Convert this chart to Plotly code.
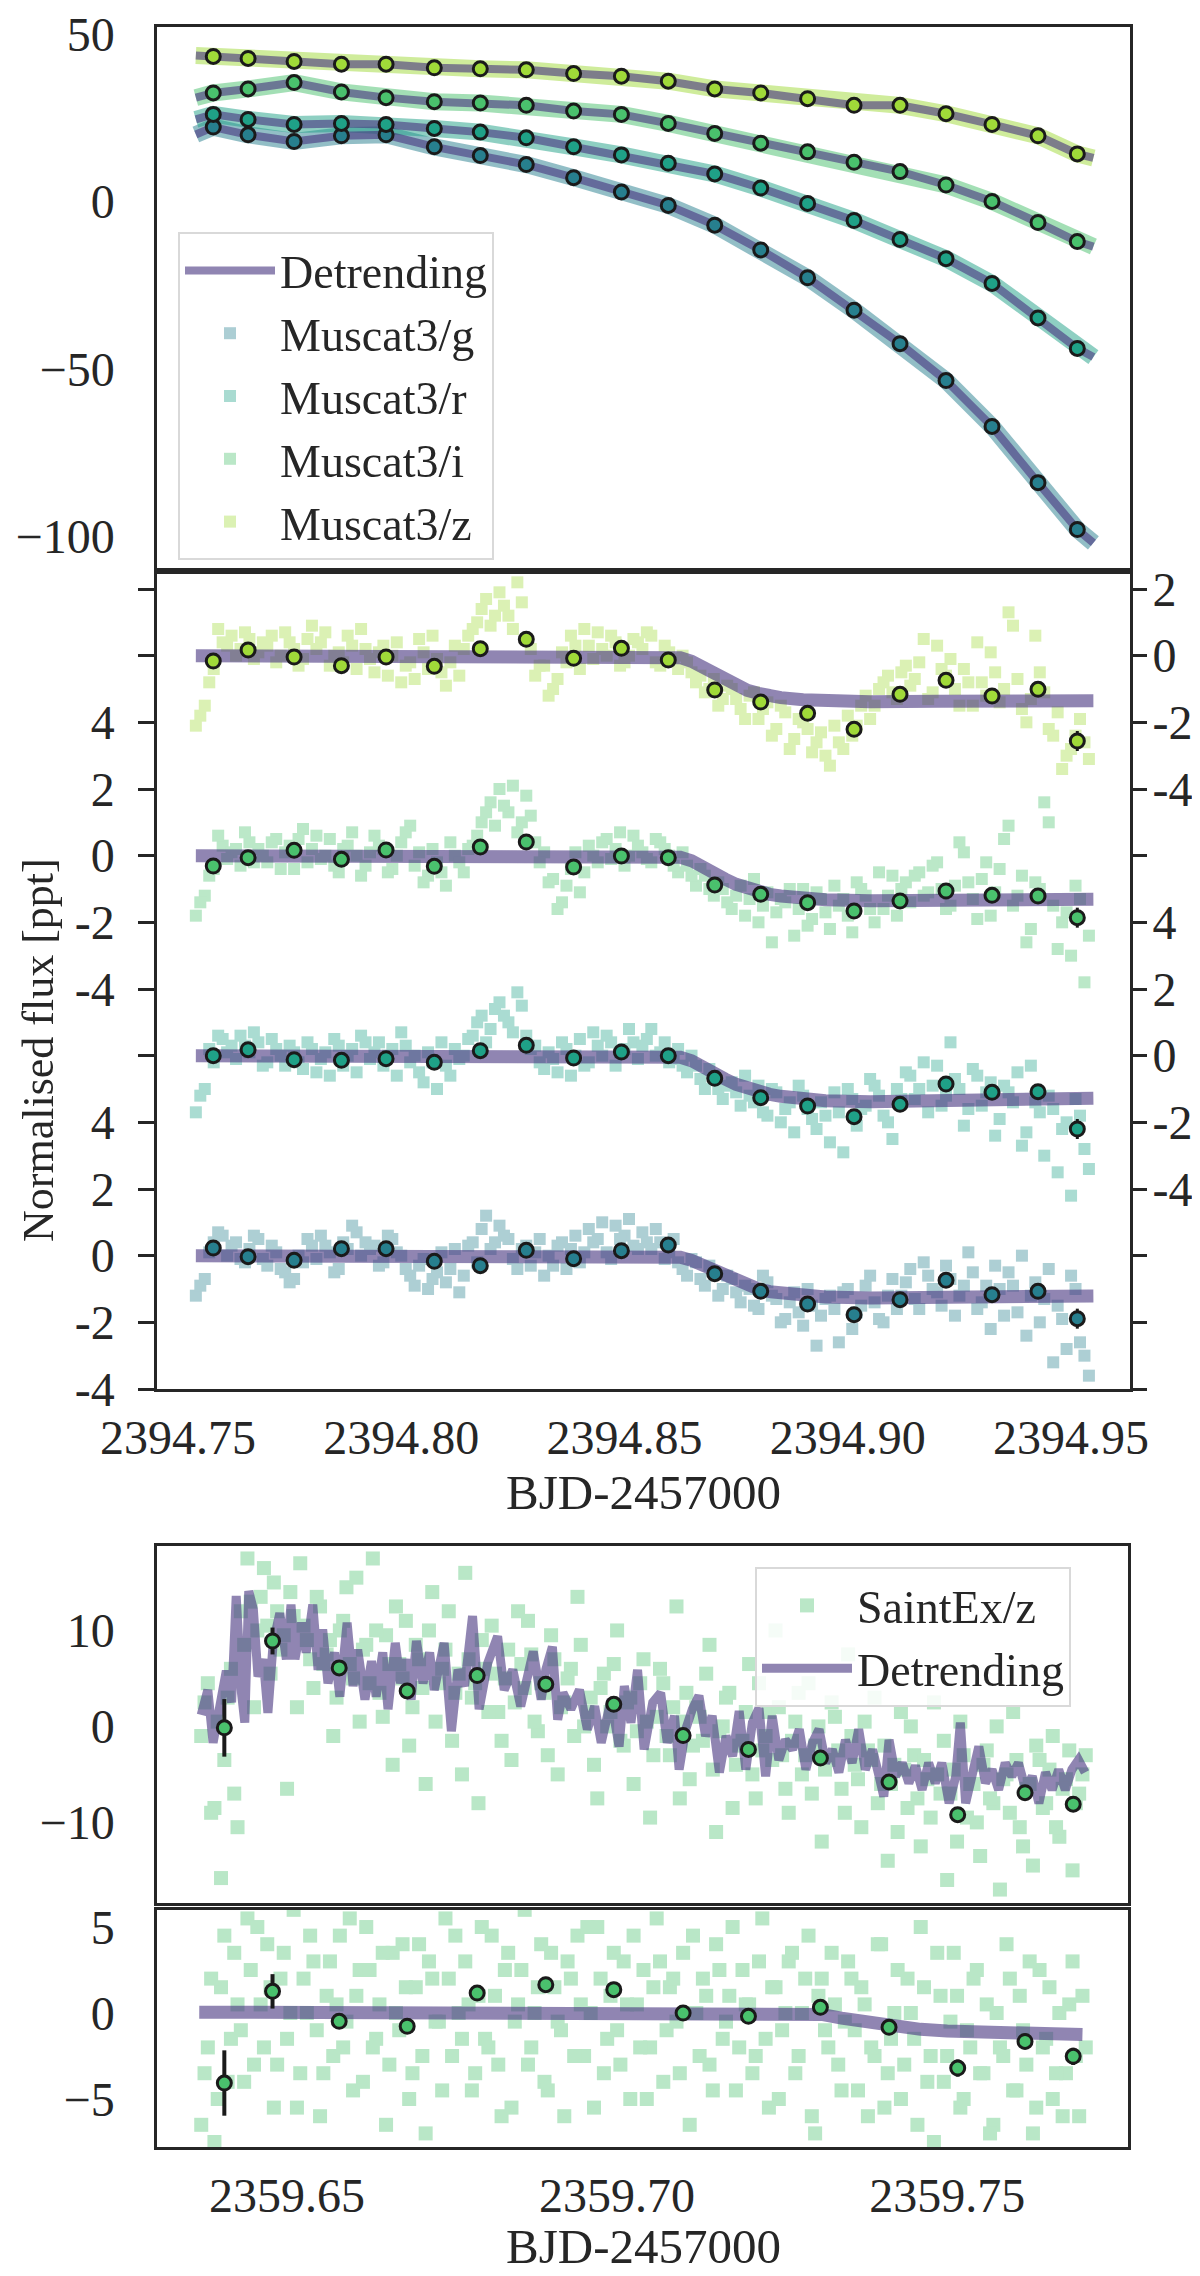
import plotly.graph_objects as go

# %%
# MuSCAT3 light curves (top two panels)
m3_time = [
    2394.754, 2394.756, 2394.758, 2394.760, 2394.762, 2394.764, 2394.766, 2394.768, 2394.770, 2394.772,
    2394.774, 2394.776, 2394.778, 2394.780, 2394.782, 2394.784, 2394.786, 2394.788, 2394.790, 2394.792,
    2394.794, 2394.796, 2394.798, 2394.800, 2394.802, 2394.804, 2394.806, 2394.808, 2394.810, 2394.812,
    2394.814, 2394.816, 2394.818, 2394.820, 2394.822, 2394.824, 2394.826, 2394.828, 2394.830, 2394.832,
    2394.834, 2394.836, 2394.838, 2394.840, 2394.842, 2394.844, 2394.846, 2394.848, 2394.850, 2394.852,
    2394.854, 2394.856, 2394.858, 2394.860, 2394.862, 2394.864, 2394.866, 2394.868, 2394.870, 2394.872,
    2394.874, 2394.876, 2394.878, 2394.880, 2394.882, 2394.884, 2394.886, 2394.888, 2394.890, 2394.892,
    2394.894, 2394.896, 2394.898, 2394.900, 2394.902, 2394.904, 2394.906, 2394.908, 2394.910, 2394.912,
    2394.914, 2394.916, 2394.918, 2394.920, 2394.922, 2394.924, 2394.926, 2394.928, 2394.930, 2394.932,
    2394.934, 2394.936, 2394.938, 2394.940, 2394.942, 2394.944, 2394.946, 2394.948, 2394.950, 2394.952,
    2394.954,
    2394.755, 2394.757, 2394.759, 2394.761, 2394.763, 2394.765, 2394.767, 2394.769, 2394.771, 2394.773,
    2394.775, 2394.777, 2394.779, 2394.781, 2394.783, 2394.785, 2394.787, 2394.789, 2394.791, 2394.793,
    2394.795, 2394.797, 2394.799, 2394.801, 2394.803, 2394.805, 2394.807, 2394.809, 2394.811, 2394.813,
    2394.815, 2394.817, 2394.819, 2394.821, 2394.823, 2394.825, 2394.827, 2394.829, 2394.831, 2394.833,
    2394.835, 2394.837, 2394.839, 2394.841, 2394.843, 2394.845, 2394.847, 2394.849, 2394.851, 2394.853,
    2394.855, 2394.857, 2394.859, 2394.861, 2394.863, 2394.865, 2394.867, 2394.869, 2394.871, 2394.873,
    2394.875, 2394.877, 2394.879, 2394.881, 2394.883, 2394.885, 2394.887, 2394.889, 2394.891, 2394.893,
    2394.895, 2394.897, 2394.899, 2394.901, 2394.903, 2394.905, 2394.907, 2394.909, 2394.911, 2394.913,
    2394.915, 2394.917, 2394.919, 2394.921, 2394.923, 2394.925, 2394.927, 2394.929, 2394.931, 2394.933,
    2394.935, 2394.937, 2394.939, 2394.941, 2394.943, 2394.945, 2394.947, 2394.949, 2394.951, 2394.953,
]

# detrended flux [ppt]
m3_g = [
    -1.2, -0.7, 0.4, 0.6, 0.3, -0.1, 0.2, 0.5, -0.3, 0.1,
    -0.5, -0.7, -0.2, 0.3, 0.6, 0.1, -0.4, 0.2, 0.7, 0.4,
    0.3, -0.2, 0.5, 0.0, -0.6, -0.3, -1.0, -0.5, -0.8, 0.2,
    -0.6, 0.4, 0.8, 0.2, 0.9, 0.5, -0.4, 0.3, 0.1, -0.6,
    -0.3, 0.4, 0.2, -0.2, 0.8, 0.5, 0.1, 0.9, 0.6, 0.3,
    0.7, 0.2, 0.4, 0.1, -0.2, -0.6, -0.2, -0.9, -0.5, -1.0,
    -0.7, -1.4, -1.0, -1.6, -0.8, -1.3, -1.9, -1.1, -2.1, -1.5,
    -1.8, -1.2, -2.6, -1.0, -1.7, -0.9, -1.4, -2.0, -0.7, -1.2,
    -0.4, -1.6, -0.6, -1.1, -0.3, -1.8, -0.9, -0.5, -1.4, -2.2,
    -1.0, -0.5, -1.7, -2.4, -0.8, -1.3, -3.2, -1.9, -0.6, -2.6,
    -3.6,
    -0.9, 0.1, 0.7, 0.0, 0.4, -0.2, 0.6, -0.1, 0.3, -0.4,
    -0.8, 0.0, 0.5, -0.1, 0.3, -0.5, 0.4, 0.9, 0.0, 0.2,
    -0.3, 0.6, 0.1, -0.4, -0.9, -0.1, -0.7, 0.1, -0.4, -1.1,
    0.3, -0.2, 1.2, 0.4, 0.6, -0.1, 0.2, -0.3, 0.5, 0.0,
    0.3, -0.4, 0.6, 0.1, 0.4, 1.0, -0.1, 0.5, 1.1, 0.2,
    0.4, 0.8, -0.1, 0.5, -0.4, -0.1, -0.7, -0.3, -1.2, -0.6,
    -1.1, -0.9, -1.5, -0.6, -1.2, -2.0, -1.4, -1.7, -1.0, -2.7,
    -1.3, -1.6, -1.1, -2.2, -1.5, -0.6, -1.9, -1.2, -1.6, -0.8,
    -1.3, -0.2, -1.0, -1.5, -0.7, -1.2, 0.1, -1.6, -0.9, -0.3,
    -1.8, -0.9, 0.0, -1.2, -2.0, -0.4, -1.5, -2.8, -1.0, -3.0,
]
m3_r = [
    -1.7, -1.0, -0.2, 0.5, 0.3, 0.6, 0.1, 0.4, -0.2, 0.2,
    -0.3, 0.1, -0.4, 0.2, -0.1, -0.6, 0.3, 0.0, -0.5, 0.4,
    0.1, -0.3, 0.2, 0.7, -0.2, -0.5, 0.1, -1.0, -0.3, 0.2,
    0.0, 0.6, 1.2, 0.8, 1.6, 1.0, 1.9, 0.6, 0.3, -0.4,
    -0.1, 0.4, -0.6, 0.5, -0.2, 0.3, 0.6, -0.3, 0.2, 0.4,
    0.3, 0.8, 0.1, -0.2, 0.2, -0.5, -0.3, -1.0, -0.6, -1.3,
    -0.8, -1.5, -1.2, -0.9, -1.8, -1.1, -1.6, -2.3, -1.2, -1.9,
    -1.4, -2.6, -1.7, -1.0, -2.1, -1.5, -0.9, -1.8, -2.5, -1.3,
    -0.6, -1.0, -1.7, -0.3, -1.2, -0.7, -2.1, -0.4, -1.5, -0.8,
    -1.9, -1.1, -0.5, -2.3, -1.4, -3.0, -1.6, -2.2, -4.2, -1.8,
    -3.4,
    -1.2, 0.2, 0.6, 0.1, -0.1, 0.3, 0.7, -0.3, 0.5, 0.0,
    0.3, -0.2, 0.4, -0.5, 0.1, 0.5, -0.3, 0.2, 0.6, -0.1,
    0.4, 0.0, -0.6, 0.3, 0.0, -0.8, -0.2, 0.4, -0.6, -0.1,
    0.5, 1.0, 0.4, 1.4, 1.2, 0.7, 1.5, 0.2, -0.2, 0.1,
    -0.5, 0.2, 0.0, -0.3, 0.7, 0.0, 0.4, 0.1, 0.8, -0.1,
    0.5, 0.0, 0.4, -0.1, -0.3, 0.0, -0.7, -0.4, -1.0, -0.9,
    -1.1, -0.6, -1.4, -1.7, -1.0, -2.0, -1.4, -0.9, -1.6, -2.2,
    -1.8, -1.1, -2.9, -1.3, -1.6, -0.7, -1.2, -2.0, -1.0, -0.5,
    -1.3, -0.2, -0.9, -1.5, 0.4, -1.0, -1.6, -0.6, -1.1, -2.4,
    -0.9, -1.4, -2.7, -0.3, -1.7, -1.2, -3.5, -2.0, -1.3, -2.8,
]
m3_i = [
    -1.8, -1.2, -0.4, 0.3, 0.1, -0.3, 0.4, 0.2, -0.2, 0.5,
    0.1, -0.4, 0.8, 0.2, -0.1, 0.5, -0.5, 0.3, 0.0, -0.3,
    0.6, 0.2, -0.4, 0.4, 0.9, 0.1, -0.6, -0.2, -0.9, 0.0,
    -0.5, 0.3, 1.0, 1.6, 2.0, 1.3, 0.7, 1.8, 0.4, 0.1,
    -0.7, -1.4, -0.4, -1.1, 0.3, -0.2, 0.5, 0.2, -0.3, 0.6,
    0.1, -0.2, 0.4, 0.0, -0.5, -0.3, -0.9, -0.6, -1.2, -1.0,
    -1.6, -0.9, -1.3, -2.0, -1.1, -1.7, -1.4, -2.4, -1.0, -1.9,
    -1.3, -2.2, -1.5, -1.8, -0.8, -1.2, -2.0, -1.6, -0.6, -1.0,
    -1.4, -0.5, -1.1, -0.2, -1.6, -0.9, 0.1, -1.3, -0.7, -1.8,
    -0.4, 0.9, -1.2, -2.6, -0.8, 1.6, -1.5, -2.0, -3.0, -1.3,
    -2.4,
    -1.4, -0.6, 0.6, -0.1, 0.2, 0.7, -0.2, 0.0, 0.4, -0.4,
    0.3, 0.5, -0.2, 0.6, 0.0, -0.3, 0.2, 0.7, -0.6, 0.1,
    0.3, -0.5, 0.0, 0.7, -0.3, -0.8, 0.2, -0.5, 0.4, -0.2,
    0.2, 0.6, 1.3, 0.9, 1.5, 2.1, 1.0, 1.2, -0.2, -0.8,
    -1.6, -0.9, 0.1, -0.5, 0.0, 0.4, -0.1, 0.7, 0.0, 0.3,
    -0.1, 0.5, 0.2, -0.3, 0.1, -0.6, -0.4, -1.0, -0.8, -1.4,
    -1.2, -1.8, -0.7, -1.5, -2.6, -1.3, -1.0, -1.6, -2.1, -1.1,
    -1.7, -0.9, -1.3, -2.3, -1.0, -1.6, -0.5, -1.2, -1.8, -0.8,
    -0.6, -1.2, -0.3, -1.0, -1.5, 0.4, -0.8, -1.9, -0.2, -1.1,
    0.5, -1.5, -0.6, -2.2, -1.0, 1.0, -2.8, -1.7, -0.9, -3.8,
]
m3_z = [
    -2.1, -1.5, -0.4, 0.4, 0.6, 0.2, 0.5, 0.1, 0.3, -0.2,
    0.7, 0.2, -0.1, 0.9, 0.4, -0.3, 0.1, 0.6, -0.4, 0.2,
    -0.5, 0.3, 0.0, -0.8, -0.2, 0.5, -0.4, -0.1, -0.9, 0.3,
    0.2, 0.8, 1.4, 0.9, 1.9, 1.2, 2.2, 0.5, -0.6, -0.3,
    -1.0, 0.1, 0.6, -0.4, 0.3, 0.7, 0.0, 0.4, -0.2, 0.5,
    0.2, 0.6, -0.3, 0.1, -0.4, -0.2, -0.8, -1.1, -0.7, -1.3,
    -1.0, -1.6, -1.2, -1.9, -1.4, -2.2, -1.7, -2.5, -2.0, -2.9,
    -2.3, -3.3, -2.6, -1.8, -2.1, -1.2, -1.5, -0.8, -1.1, -0.5,
    -0.9, -0.2, -1.3, 0.3, -0.6, -1.0, -0.4, -1.5, -0.8, 0.1,
    -1.4, 1.3, -0.7, -2.0, 0.6, -1.1, -2.4, -3.4, -2.8, -1.9,
    -3.1,
    -1.8, -0.8, 0.8, 0.3, 0.0, 0.7, -0.1, 0.4, 0.6, 0.0,
    0.4, -0.3, 0.5, 0.2, 0.7, 0.0, -0.2, 0.3, 0.8, -0.1,
    0.1, -0.6, 0.4, -0.3, -0.7, 0.1, 0.6, -0.5, -0.2, -0.6,
    0.6, 1.0, 1.7, 1.2, 1.5, 0.8, 1.6, 0.2, -0.3, -1.2,
    -0.7, -0.2, 0.3, 0.8, -0.1, 0.2, 0.6, -0.3, 0.0, 0.4,
    0.7, -0.2, 0.3, -0.1, 0.0, -0.5, -0.6, -1.0, -1.5, -0.9,
    -1.3, -1.9, -1.1, -1.6, -2.4, -1.5, -2.8, -1.9, -2.2, -2.6,
    -3.0, -2.1, -2.8, -2.4, -1.5, -1.9, -1.0, -0.6, -1.3, -0.3,
    -0.7, 0.5, -1.1, -0.4, -0.1, -1.5, -0.8, 0.4, -1.2, -0.5,
    -1.0, 0.9, -1.6, -1.3, -0.5, -2.2, -1.7, -3.0, -2.4, -2.6,
]

# 15-min bins
m3_bin_time = [
    2394.7579, 2394.7657, 2394.7760, 2394.7866, 2394.7966, 2394.8074, 2394.8177,
    2394.8280, 2394.8386, 2394.8493, 2394.8598, 2394.8702, 2394.8805, 2394.8910,
    2394.9014, 2394.9117, 2394.9220, 2394.9323, 2394.9426, 2394.9514,
]
m3_bin_g = [0.23, -0.03, -0.14, 0.21, 0.21, -0.17, -0.30, 0.16, -0.09, 0.15,
            0.32, -0.54, -1.07, -1.45, -1.77, -1.32, -0.74, -1.17, -1.07, -1.89]
m3_bin_r = [0.00, 0.18, -0.12, -0.14, -0.09, -0.20, 0.15, 0.31, -0.07, 0.11,
            0.00, -0.68, -1.26, -1.51, -1.83, -1.46, -0.85, -1.10, -1.08, -2.20]
m3_bin_i = [-0.31, -0.06, 0.16, -0.11, 0.17, -0.32, 0.26, 0.41, -0.34, -0.01,
            -0.06, -0.88, -1.16, -1.41, -1.66, -1.36, -1.06, -1.19, -1.21, -1.86]
m3_bin_z = [-0.16, 0.17, -0.04, -0.30, -0.04, -0.32, 0.21, 0.49, -0.08, 0.22,
            -0.13, -1.03, -1.39, -1.73, -2.21, -1.16, -0.74, -1.21, -1.01, -2.56]
m3_bin_err = [0.20, 0.14, 0.13, 0.13, 0.13, 0.13, 0.13, 0.13, 0.13, 0.13,
              0.13, 0.13, 0.13, 0.13, 0.13, 0.13, 0.13, 0.14, 0.14, 0.30]

# transit model
m3_model_time = [2394.754, 2394.860, 2394.8625, 2394.865, 2394.8675, 2394.870, 2394.8725,
                 2394.875, 2394.8775, 2394.880, 2394.8825, 2394.885, 2394.890, 2394.895,
                 2394.905, 2394.920, 2394.935, 2394.955]
m3_model_g = [0, 0, -0.05, -0.14, -0.28, -0.46, -0.65, -0.80, -0.91, -1.00, -1.08, -1.13,
              -1.20, -1.24, -1.27, -1.26, -1.24, -1.21]
m3_model_r = [0, 0, -0.05, -0.15, -0.30, -0.50, -0.70, -0.86, -0.98, -1.08, -1.16, -1.22,
              -1.30, -1.35, -1.38, -1.36, -1.32, -1.28]
m3_model_i = [0, 0, -0.05, -0.15, -0.30, -0.50, -0.70, -0.86, -0.98, -1.08, -1.16, -1.21,
              -1.28, -1.32, -1.35, -1.34, -1.32, -1.31]
m3_model_z = [0, 0, -0.06, -0.17, -0.34, -0.55, -0.76, -0.92, -1.04, -1.13, -1.21, -1.26,
              -1.32, -1.36, -1.38, -1.37, -1.36, -1.35]

# raw flux with systematics (top panel), read at the bin times plus both ends
raw_time = [2394.7540] + m3_bin_time + [2394.9550]
raw_g = [20.0, 22.2, 19.9, 17.9, 19.6, 19.9, 16.3, 13.7, 11.0, 7.1, 2.8, -1.2, -7.1,
         -14.5, -22.8, -32.5, -42.5, -53.5, -67.2, -84.0, -98.0, -102.0]
raw_r = [24.5, 26.0, 24.5, 23.0, 23.3, 23.0, 21.8, 20.7, 19.0, 16.3, 13.9, 11.4, 8.2,
         4.0, -0.6, -5.7, -11.4, -17.1, -24.5, -34.8, -43.9, -46.5]
raw_i = [31.0, 32.4, 33.6, 35.5, 32.7, 31.0, 29.8, 29.4, 28.7, 27.0, 26.0, 23.3, 20.3,
         17.4, 14.8, 11.7, 8.9, 4.9, 0.0, -6.3, -12.0, -13.5]
raw_z = [43.6, 43.3, 42.7, 41.8, 41.0, 41.0, 39.9, 39.6, 39.3, 38.2, 37.4, 35.9, 33.6,
         32.4, 30.7, 28.7, 28.7, 26.2, 23.0, 19.6, 14.2, 13.0]

bands = ["g", "r", "i", "z"]
band_colors = {"g": "#277f8e", "r": "#1fa187", "i": "#4ac16d", "z": "#a0da39"}
band_offset = {"g": 0, "r": 6, "i": 12, "z": 18}

# %%
# SPECULOOS/SaintEx light curve (bottom two panels)
se_time = [
    2359.637, 2359.638, 2359.639, 2359.640, 2359.641, 2359.642, 2359.643, 2359.644, 2359.645, 2359.646,
    2359.647, 2359.648, 2359.649, 2359.650, 2359.651, 2359.652, 2359.653, 2359.654, 2359.655, 2359.656,
    2359.657, 2359.658, 2359.659, 2359.660, 2359.661, 2359.662, 2359.663, 2359.664, 2359.665, 2359.666,
    2359.667, 2359.668, 2359.669, 2359.670, 2359.671, 2359.672, 2359.673, 2359.674, 2359.675, 2359.676,
    2359.677, 2359.678, 2359.679, 2359.680, 2359.681, 2359.682, 2359.683, 2359.684, 2359.685, 2359.686,
    2359.687, 2359.688, 2359.689, 2359.690, 2359.691, 2359.692, 2359.693, 2359.694, 2359.695, 2359.696,
    2359.697, 2359.698, 2359.699, 2359.700, 2359.701, 2359.702, 2359.703, 2359.704, 2359.705, 2359.706,
    2359.707, 2359.708, 2359.709, 2359.710, 2359.711, 2359.712, 2359.713, 2359.714, 2359.715, 2359.716,
    2359.717, 2359.718, 2359.719, 2359.720, 2359.721, 2359.722, 2359.723, 2359.724, 2359.725, 2359.726,
    2359.727, 2359.728, 2359.729, 2359.730, 2359.731, 2359.732, 2359.733, 2359.734, 2359.735, 2359.736,
    2359.737, 2359.738, 2359.739, 2359.740, 2359.741, 2359.742, 2359.743, 2359.744, 2359.745, 2359.746,
    2359.747, 2359.748, 2359.749, 2359.750, 2359.751, 2359.752, 2359.753, 2359.754, 2359.755, 2359.756,
    2359.757, 2359.758, 2359.759, 2359.760, 2359.761, 2359.762, 2359.763, 2359.764, 2359.765, 2359.766,
    2359.767, 2359.768, 2359.769, 2359.770, 2359.771,
    2359.6375, 2359.6385, 2359.6395, 2359.6405, 2359.6415, 2359.6425, 2359.6435, 2359.6445, 2359.6455, 2359.6465,
    2359.6475, 2359.6485, 2359.6495, 2359.6505, 2359.6515, 2359.6525, 2359.6535, 2359.6545, 2359.6555, 2359.6565,
    2359.6575, 2359.6585, 2359.6595, 2359.6605, 2359.6615, 2359.6625, 2359.6635, 2359.6645, 2359.6655, 2359.6665,
    2359.6675, 2359.6685, 2359.6695, 2359.6705, 2359.6715, 2359.6725, 2359.6735, 2359.6745, 2359.6755, 2359.6765,
    2359.6775, 2359.6785, 2359.6795, 2359.6805, 2359.6815, 2359.6825, 2359.6835, 2359.6845, 2359.6855, 2359.6865,
    2359.6875, 2359.6885, 2359.6895, 2359.6905, 2359.6915, 2359.6925, 2359.6935, 2359.6945, 2359.6955, 2359.6965,
    2359.6975, 2359.6985, 2359.6995, 2359.7005, 2359.7015, 2359.7025, 2359.7035, 2359.7045, 2359.7055, 2359.7065,
    2359.7075, 2359.7085, 2359.7095, 2359.7105, 2359.7115, 2359.7125, 2359.7135, 2359.7145, 2359.7155, 2359.7165,
    2359.7175, 2359.7185, 2359.7195, 2359.7205, 2359.7215, 2359.7225, 2359.7235, 2359.7245, 2359.7255, 2359.7265,
    2359.7275, 2359.7285, 2359.7295, 2359.7305, 2359.7315, 2359.7325, 2359.7335, 2359.7345, 2359.7355, 2359.7365,
    2359.7375, 2359.7385, 2359.7395, 2359.7405, 2359.7415, 2359.7425, 2359.7435, 2359.7445, 2359.7455, 2359.7465,
    2359.7475, 2359.7485, 2359.7495, 2359.7505, 2359.7515, 2359.7525, 2359.7535, 2359.7545, 2359.7555, 2359.7565,
    2359.7575, 2359.7585, 2359.7595, 2359.7605, 2359.7615, 2359.7625, 2359.7635, 2359.7645, 2359.7655, 2359.7665,
    2359.7675, 2359.7685, 2359.7695, 2359.7705,
]
se_raw = [
    -1.0, 4.5, -8.5, -15.8, 3.0, -7.0, 12.0, 17.5, 2.0, 13.5,
    10.5, 15.0, 8.0, -6.5, 11.5, 17.0, 9.0, 4.0, 12.5, 7.5,
    -1.0, 10.0, 14.5, 5.0, 0.5, 8.5, 17.5, 3.5, 9.5, -4.0,
    6.5, 11.0, 2.0, 7.0, -6.0, 14.0, 4.5, 8.0, -1.5, 5.5,
    16.0, 3.0, -8.0, 6.0, 10.5, 1.5, 5.0, -3.5, 12.0, 4.0,
    7.5, -0.5, 3.5, 9.5, -5.0, 2.5, 6.0, 13.5, 0.0, 3.0,
    -7.5, 5.5, 1.5, 10.0, -2.0, 3.0, -0.5, 7.0, -9.5, 1.0,
    4.5, -3.0, 12.5, 0.5, -5.5, 2.0, -1.5, 8.5, -11.0, 0.0,
    3.5, -4.0, -1.5, 6.5, -7.5, -2.5, 1.5, 10.0, -3.0, -9.0,
    0.5, -5.0, 4.5, -2.0, -12.0, -3.5, 1.0, -6.5, 7.5, -4.0,
    -10.5, -2.5, 3.0, -6.0, -14.0, -4.0, 1.5, -8.5, -3.0, -12.5,
    -5.5, 2.5, -7.0, -16.0, -4.5, 0.5, -9.5, -6.0, -13.5, -2.5,
    -8.0, -17.0, -5.0, 1.5, -10.5, -6.5, -14.5, -3.5, -8.0, -1.0,
    -11.5, -5.5, -15.0, -7.0, -3.0,
    2.5, -9.0, 0.5, -3.5, 6.0, -10.5, 8.5, 13.0, 10.0, 16.5,
    5.5, 12.0, 9.5, 14.0, 2.0, 10.5, 7.0, 13.5, 6.5, 9.0,
    3.0, 11.0, 6.5, 15.5, 8.0, 4.5, 10.0, 1.0, 6.5, 12.5,
    5.0, -2.0, 8.5, 4.0, 10.0, 0.5, 6.0, 12.0, 3.5, -5.0,
    7.0, 4.5, 9.0, 1.5, 5.5, -1.5, 8.0, 2.5, 6.5, 11.0,
    0.5, 4.5, -3.0, 7.0, 2.0, 5.0, -1.0, 8.5, 1.5, -4.0,
    4.0, 0.0, 6.5, -1.5, 2.5, -6.0, 4.5, 0.5, -3.0, 6.0,
    -1.0, 2.0, -7.5, 3.5, -2.0, 1.0, 5.5, -4.5, -0.5, 3.0,
    -8.5, -2.0, 1.5, -5.0, 4.5, -1.0, -3.5, 2.0, -6.5, -1.5,
    3.5, -3.0, -7.0, 0.0, -4.5, 2.5, -2.5, -9.0, -1.0, -5.5,
    0.5, -3.5, -8.0, -2.0, -6.0, -11.0, -4.5, 0.0, -7.5, -3.5,
    -9.5, -5.0, -1.5, -7.0, -12.0, -3.0, -6.0, -10.0, -4.0, -7.5,
    0.0, -5.5, -9.0, -3.5, -12.5, -6.0, -2.0, -8.5, -4.5, -10.5,
    -6.5, -2.5, -8.0, -5.0,
]
se_detrended = [
    -6.5, -2.0, -7.5, 1.5, -4.0, 3.5, -1.0, 5.5, -3.0, 0.5,
    4.0, -5.5, 2.0, -1.5, 6.0, -3.5, 0.0, 3.0, -6.0, 1.0,
    -2.5, 4.5, -0.5, -4.5, 2.5, 5.0, -2.0, 0.5, -6.5, 3.5,
    -1.0, 1.5, -3.5, 4.0, -7.0, 2.0, -0.5, 5.5, -2.5, 0.0,
    3.0, -4.5, 1.0, -1.5, 4.5, -3.0, 2.5, -5.5, 0.5, 6.0,
    -2.0, 1.5, -4.0, 3.5, -0.5, -6.0, 2.0, 4.5, -2.5, 0.0,
    5.0, -3.5, 1.0, -1.0, 3.0, -5.0, 0.5, 2.5, -2.0, 5.5,
    -4.0, 1.5, -0.5, 3.5, -6.5, 0.0, 2.0, -3.0, 4.0, -1.5,
    1.0, -4.5, 2.5, 0.5, -2.5, 5.5, -5.5, 1.5, -1.0, 3.0,
    -3.5, 0.0, 4.5, -7.0, 2.0, -2.0, 0.5, -4.5, 3.0, -1.0,
    1.5, -6.0, -2.5, 4.0, -3.5, 0.0, -5.0, 2.0, -1.5, 5.0,
    -4.0, -7.5, 1.0, -2.5, 3.5, -5.5, -1.0, 2.0, -3.5, 0.5,
    -6.5, -2.0, 4.0, -4.5, 1.0, -3.0, -7.0, 2.5, -1.5, -5.0,
    0.0, -3.5, 3.0, -6.0, -2.0,
    -3.5, 2.0, -5.0, 4.5, -1.5, 0.5, -4.0, 2.5, 5.0, -2.0,
    1.5, -3.0, 3.5, 0.0, -5.5, 2.0, 4.5, -1.0, -3.5, 3.0,
    0.5, -2.0, 5.5, 1.0, -4.0, 2.5, -1.5, 3.5, -3.0, 0.0,
    4.0, -5.0, 1.5, -2.5, 3.0, -0.5, -4.5, 2.0, 4.5, -1.5,
    0.5, -3.5, 5.0, -2.0, 1.0, -6.0, 3.5, -0.5, 2.5, -3.0,
    0.0, 4.0, -4.5, 1.5, -1.0, 3.0, -2.5, 0.5, 5.0, -5.5,
    2.0, -1.5, 3.5, -3.0, 0.5, 4.5, -2.0, -5.0, 1.5, 3.0,
    -1.0, 2.0, -3.5, 0.0, 4.5, -2.5, 1.0, -4.5, 2.5, -0.5,
    5.0, -2.0, 0.5, -3.5, 3.0, -1.5, 1.5, -5.0, 0.0, 3.5,
    -2.5, 2.0, -6.0, 1.0, -1.0, 3.5, -3.0, -0.5, 2.0, -4.5,
    0.5, -2.0, 4.0, -5.5, -1.5, 2.5, -3.0, 0.0, -6.5, 1.5,
    -2.5, 3.5, -4.0, -0.5, 1.0, -5.0, -2.0, 2.5, -3.5, -7.0,
    0.0, -2.5, 2.0, -4.5, -1.0, 3.0, -5.5, -2.0, 1.5, -3.5,
    -6.0, 0.5, -2.5, 1.0,
]

# GP detrending model
se_gp_time = [
    2359.6370, 2359.6380, 2359.6388, 2359.6398, 2359.6408, 2359.6416, 2359.6423, 2359.6431,
    2359.6436, 2359.6442, 2359.6449, 2359.6456, 2359.6464, 2359.6471, 2359.6479, 2359.6489,
    2359.6499, 2359.6506, 2359.6512, 2359.6522, 2359.6529, 2359.6539, 2359.6547, 2359.6554,
    2359.6562, 2359.6572, 2359.6580, 2359.6591, 2359.6600, 2359.6607, 2359.6618, 2359.6628,
    2359.6635, 2359.6645, 2359.6653, 2359.6664, 2359.6672, 2359.6680, 2359.6688, 2359.6696,
    2359.6706, 2359.6716, 2359.6723, 2359.6738, 2359.6749, 2359.6759, 2359.6769, 2359.6781,
    2359.6791, 2359.6804, 2359.6819, 2359.6829, 2359.6842, 2359.6854, 2359.6864, 2359.6873,
    2359.6885, 2359.6892, 2359.6902, 2359.6910, 2359.6918, 2359.6930, 2359.6943, 2359.6955,
    2359.6966, 2359.6976, 2359.6991, 2359.7003, 2359.7011, 2359.7021, 2359.7031, 2359.7041,
    2359.7054, 2359.7066, 2359.7076, 2359.7087, 2359.7094, 2359.7104, 2359.7114, 2359.7124,
    2359.7134, 2359.7144, 2359.7155, 2359.7165, 2359.7175, 2359.7185, 2359.7195, 2359.7205,
    2359.7215, 2359.7225, 2359.7235, 2359.7245, 2359.7255, 2359.7266, 2359.7276, 2359.7286,
    2359.7296, 2359.7306, 2359.7316, 2359.7326, 2359.7336, 2359.7346, 2359.7356, 2359.7366,
    2359.7376, 2359.7387, 2359.7397, 2359.7404, 2359.7412, 2359.7422, 2359.7432, 2359.7442,
    2359.7452, 2359.7462, 2359.7472, 2359.7482, 2359.7492, 2359.7503, 2359.7513, 2359.7520,
    2359.7528, 2359.7538, 2359.7548, 2359.7558, 2359.7568, 2359.7578, 2359.7588, 2359.7598,
    2359.7608, 2359.7619, 2359.7629, 2359.7639, 2359.7649, 2359.7659, 2359.7669, 2359.7679,
    2359.7689, 2359.7699, 2359.7709,
]
se_gp = [
    1.2, 3.8, -1.7, 2.5, 5.8, 2.5, 13.6, 3.5,
    0.4, 14.1, 12.2, 5.2, 7.0, 1.4, 8.7, 11.8,
    7.0, 12.7, 7.0, 10.8, 7.7, 12.7, 5.9, 10.1,
    4.5, 7.7, 3.1, 10.8, 4.2, 8.0, 2.8, 6.8,
    3.1, 7.7, 1.8, 8.7, 4.5, 7.0, 2.8, 8.9,
    4.5, 7.7, 3.8, 8.7, -0.5, 5.9, 4.2, 11.5,
    1.8, 6.6, 9.4, 3.8, 5.9, 2.1, 5.2, 7.8,
    2.8, 5.9, 8.3, 0.7, 3.5, 1.8, 3.8, -0.3,
    2.1, -1.7, 2.8, -2.1, 4.2, 0.4, 5.9, -2.4,
    2.5, 3.5, -1.7, 1.1, -4.5, -0.3, 1.8, 3.2,
    -1.0, 1.1, -4.8, -1.0, -3.1, 1.6, -4.5, 0.4,
    1.9, -5.2, 1.1, -3.5, -1.4, -2.4, -0.3, -4.5,
    -1.7, -0.3, -3.8, -2.4, -4.8, -1.4, -3.8, -0.3,
    -4.5, -2.4, -5.2, -7.3, -1.4, -5.2, -3.8, -5.9,
    -4.1, -6.6, -3.8, -5.9, -3.8, -8.0, -5.2, 0.4,
    -8.0, -5.2, -2.1, -5.9, -4.5, -6.6, -3.8, -5.2,
    -3.8, -6.6, -5.2, -8.0, -4.8, -6.6, -4.5, -6.6,
    -4.5, -3.5, -4.8,
]

se_bin_time = [2359.6405, 2359.6478, 2359.6579, 2359.6682, 2359.6788, 2359.6892, 2359.6995,
               2359.7100, 2359.7199, 2359.7308, 2359.7412, 2359.7516, 2359.7618, 2359.7691]
se_bin_raw = [-0.15, 8.9, 6.1, 3.7, 5.3, 4.4, 2.3, -0.95, -2.4, -3.3, -5.8, -9.2, -6.9, -8.1]
se_bin_raw_err = [3.0, 1.4, 0.7, 0.7, 0.7, 0.7, 0.7, 0.7, 0.7, 0.7, 0.7, 0.8, 0.7, 0.8]
se_bin_det = [-4.07, 1.26, -0.48, -0.77, 1.16, 1.65, 1.36, 0.0, -0.19, 0.33, -0.83, -3.2, -1.65, -2.52]
se_bin_det_err = [1.9, 1.0, 0.45, 0.45, 0.45, 0.45, 0.45, 0.45, 0.45, 0.45, 0.45, 0.5, 0.45, 0.5]

se_model_time = [2359.6367, 2359.7283, 2359.731, 2359.734, 2359.737, 2359.740, 2359.743,
                 2359.746, 2359.750, 2359.755, 2359.762, 2359.7705]
se_model = [0.05, 0.05, -0.08, -0.30, -0.50, -0.70, -0.85, -0.95, -1.05, -1.13, -1.20, -1.25]

# %%
purple = "rgba(70,51,126,0.6)"
font_family = "Liberation Serif"
ink = "#262626"
W, H = 1200, 2276

fig = go.Figure()

# top panel: raw MuSCAT3 flux with the detrending model
raw_vals = {"g": raw_g, "r": raw_r, "i": raw_i, "z": raw_z}
for b in bands:
    fig.add_trace(go.Scatter(
        x=raw_time, y=raw_vals[b], mode="lines", xaxis="x", yaxis="y",
        line=dict(color=band_colors[b], width=17), opacity=0.5, showlegend=False,
    ))
for n, b in enumerate(bands):
    fig.add_trace(go.Scatter(
        x=raw_time, y=raw_vals[b], mode="lines", xaxis="x", yaxis="y",
        line=dict(color=purple, width=8), name="Detrending",
        showlegend=(n == 0), legend="legend", legendrank=1,
    ))
for b in bands:
    fig.add_trace(go.Scatter(
        x=m3_bin_time, y=raw_vals[b][1:-1], mode="markers", xaxis="x", yaxis="y",
        marker=dict(symbol="circle", size=14, color=band_colors[b],
                    line=dict(color="#1a1a1a", width=3)),
        showlegend=False,
    ))

# middle panel: detrended MuSCAT3 flux, stacked
det_vals = {"g": m3_g, "r": m3_r, "i": m3_i, "z": m3_z}
bin_vals = {"g": m3_bin_g, "r": m3_bin_r, "i": m3_bin_i, "z": m3_bin_z}
model_vals = {"g": m3_model_g, "r": m3_model_r, "i": m3_model_i, "z": m3_model_z}
for n, b in enumerate(bands):
    off = band_offset[b]
    fig.add_trace(go.Scatter(
        x=m3_time, y=[v + off for v in det_vals[b]], mode="markers", xaxis="x2", yaxis="y2",
        marker=dict(symbol="square", size=12, color=band_colors[b], line=dict(width=0)),
        opacity=0.38, name=f"Muscat3/{b}", legend="legend", legendrank=2 + n,
    ))
for b in bands:
    off = band_offset[b]
    fig.add_trace(go.Scatter(
        x=m3_model_time, y=[v + off for v in model_vals[b]], mode="lines", xaxis="x2", yaxis="y2",
        line=dict(color=purple, width=13), showlegend=False,
    ))
for b in bands:
    off = band_offset[b]
    fig.add_trace(go.Scatter(
        x=m3_bin_time, y=[v + off for v in bin_vals[b]], mode="markers", xaxis="x2", yaxis="y2",
        error_y=dict(type="data", array=m3_bin_err, color="#1a1a1a", thickness=3, width=0),
        marker=dict(symbol="circle", size=14, color=band_colors[b],
                    line=dict(color="#1a1a1a", width=3)),
        showlegend=False,
    ))
# right-hand axis of the middle panel
fig.add_trace(go.Scatter(x=[None], y=[None], xaxis="x2", yaxis="y5", showlegend=False))

# third panel: raw SaintEx flux with GP detrending
fig.add_trace(go.Scatter(
    x=se_time, y=se_raw, mode="markers", xaxis="x3", yaxis="y3",
    marker=dict(symbol="square", size=14, color=band_colors["i"], line=dict(width=0)),
    opacity=0.38, name="SaintEx/z", legend="legend2",
))
fig.add_trace(go.Scatter(
    x=se_gp_time, y=se_gp, mode="lines", xaxis="x3", yaxis="y3",
    line=dict(color=purple, width=9), name="Detrending", legend="legend2",
))
fig.add_trace(go.Scatter(
    x=se_bin_time, y=se_bin_raw, mode="markers", xaxis="x3", yaxis="y3",
    error_y=dict(type="data", array=se_bin_raw_err, color="#1a1a1a", thickness=4, width=0),
    marker=dict(symbol="circle", size=14, color=band_colors["i"],
                line=dict(color="#1a1a1a", width=3)),
    showlegend=False,
))

# bottom panel: detrended SaintEx flux with transit model
fig.add_trace(go.Scatter(
    x=se_time, y=se_detrended, mode="markers", xaxis="x4", yaxis="y4",
    marker=dict(symbol="square", size=14, color=band_colors["i"], line=dict(width=0)),
    opacity=0.38, showlegend=False,
))
fig.add_trace(go.Scatter(
    x=se_model_time, y=se_model, mode="lines", xaxis="x4", yaxis="y4",
    line=dict(color=purple, width=13), showlegend=False,
))
fig.add_trace(go.Scatter(
    x=se_bin_time, y=se_bin_det, mode="markers", xaxis="x4", yaxis="y4",
    error_y=dict(type="data", array=se_bin_det_err, color="#1a1a1a", thickness=4, width=0),
    marker=dict(symbol="circle", size=14, color=band_colors["i"],
                line=dict(color="#1a1a1a", width=3)),
    showlegend=False,
))

# %%
# axes
def px_x(a, b):
    return [a / W, b / W]


def px_y(top, bottom):
    return [1 - bottom / H, 1 - top / H]


tick_font = dict(family=font_family, size=48, color=ink)
frame = dict(showline=True, linecolor=ink, linewidth=2.5, mirror=True, automargin=False,
             ticklabeloverflow="allow", showgrid=False, zeroline=False, tickfont=tick_font)
hidden_yticks = dict(ticks="outside", ticklen=16, tickcolor="rgba(0,0,0,0)", ticklabelstandoff=14)
shown_yticks = dict(ticks="outside", ticklen=16, tickwidth=3, tickcolor=ink, ticklabelstandoff=14)
xtick_labels = dict(ticks="", ticklabelstandoff=5)

m3_xrange = [2394.7453, 2394.9632]
se_xrange = [2359.6303, 2359.7774]

m3_xticks = [2394.75, 2394.80, 2394.85, 2394.90, 2394.95]
m3_xticktext = ["2394.75", "2394.80", "2394.85", "2394.90", "2394.95"]
se_xticks = [2359.65, 2359.70, 2359.75]
se_xticktext = ["2359.65", "2359.70", "2359.75"]

mid_ticks = [-4, -2, 0, 2, 4, 6, 8, 10, 12, 14, 16, 18, 20]
mid_left_text = ["-4", "-2", "0", "2", "4", "", "-4", "-2", "0", "2", "4", "", ""]
mid_right_text = ["", "", "", "-4", "-2", "0", "2", "4", "", "-4", "-2", "0", "2"]

legend_style = dict(xanchor="left", yanchor="top",
                    bgcolor="rgba(255,255,255,0.85)", bordercolor="#d9d9d9", borderwidth=2,
                    font=dict(family=font_family, size=46, color=ink),
                    itemwidth=90, tracegroupgap=0)

fig.update_layout(
    width=W, height=H,
    margin=dict(l=0, r=0, t=0, b=0),
    paper_bgcolor="white", plot_bgcolor="white",
    font=dict(family=font_family, color=ink),
    xaxis=dict(domain=px_x(149, 1122), anchor="y", range=m3_xrange,
               showticklabels=False, ticks="", **frame),
    yaxis=dict(domain=px_y(19, 560), anchor="x", range=[-109.5, 52.1],
               tickvals=[-100, -50, 0, 50], **hidden_yticks, **frame),
    xaxis2=dict(domain=px_x(149, 1122), anchor="y2", range=m3_xrange,
                tickvals=m3_xticks, ticktext=m3_xticktext, **xtick_labels, **frame),
    yaxis2=dict(domain=px_y(566, 1381), anchor="x2", range=[-4.0, 20.45],
                tickvals=mid_ticks, ticktext=mid_left_text, **shown_yticks, **frame),
    yaxis5=dict(overlaying="y2", anchor="x2", side="right", range=[-4.0, 20.45],
                tickvals=mid_ticks, ticktext=mid_right_text, showgrid=False, zeroline=False,
                showline=False, automargin=False, ticklabeloverflow="allow", tickfont=tick_font,
                ticks="outside", ticklen=16, tickwidth=3, tickcolor=ink, ticklabelstandoff=-4),
    xaxis3=dict(domain=px_x(149, 1120), anchor="y3", range=se_xrange,
                showticklabels=False, ticks="", **frame),
    yaxis3=dict(domain=px_y(1538, 1895), anchor="x3", range=[-18.4, 18.8],
                tickvals=[-10, 0, 10], **hidden_yticks, **frame),
    xaxis4=dict(domain=px_x(149, 1120), anchor="y4", range=se_xrange,
                tickvals=se_xticks, ticktext=se_xticktext, **xtick_labels, **frame),
    yaxis4=dict(domain=px_y(1902, 2139), anchor="x4", range=[-7.79, 5.99],
                tickvals=[-5, 0, 5], **hidden_yticks, **frame),
    legend=dict(x=170 / W, y=1 - 224 / H, **legend_style),
    legend2=dict(x=747 / W, y=1 - 1559 / H, **legend_style),
)

fig.add_annotation(text="Normalised flux [ppt]", xref="paper", yref="paper",
                   x=30 / W, y=1 - 1042 / H, xanchor="center", yanchor="middle",
                   textangle=-90, showarrow=False,
                   font=dict(family=font_family, size=44, color=ink))
fig.add_annotation(text="BJD-2457000", xref="paper", yref="paper",
                   x=635 / W, y=1 - 1484 / H, xanchor="center", yanchor="middle",
                   showarrow=False, font=dict(family=font_family, size=49, color=ink))
fig.add_annotation(text="BJD-2457000", xref="paper", yref="paper",
                   x=635 / W, y=0, xanchor="center", yanchor="bottom", yshift=8,
                   showarrow=False, font=dict(family=font_family, size=49, color=ink))

fig.write_html("out.html")
